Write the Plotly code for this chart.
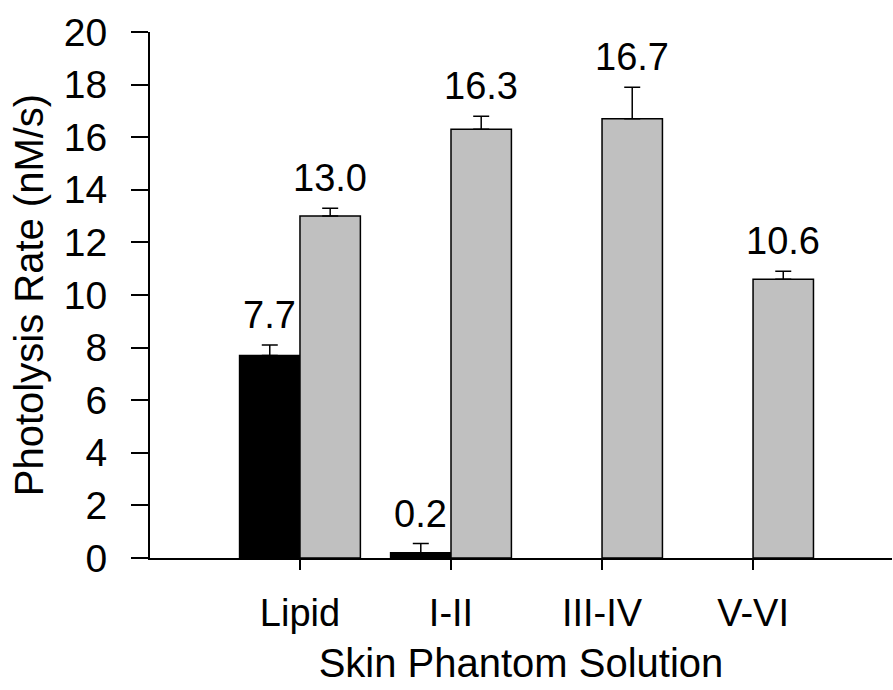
import plotly.graph_objects as go

categories = ["Lipid", "I-II", "III-IV", "V-VI"]
black_vals = [7.7, 0.2, None, None]
black_err = [0.4, 0.35, 0, 0]
gray_vals = [13.0, 16.3, 16.7, 10.6]
gray_err = [0.3, 0.5, 1.2, 0.3]
black_labels = ["7.7", "0.2", "", ""]
gray_labels = ["13.0", "16.3", "16.7", "10.6"]

pos = list(range(len(categories)))
FONT = "Liberation Sans, Arial, sans-serif"

fig = go.Figure()
fig.add_trace(go.Bar(
    x=pos, y=black_vals, width=0.4, offset=-0.4,
    marker=dict(color="black", line=dict(color="black", width=1.5)),
    error_y=dict(type="data", array=black_err, arrayminus=[0]*4, symmetric=False,
                 color="black", thickness=1.5, width=8),
    showlegend=False,
))
fig.add_trace(go.Bar(
    x=pos, y=gray_vals, width=0.4, offset=0,
    marker=dict(color="#c0c0c0", line=dict(color="black", width=1.5)),
    error_y=dict(type="data", array=gray_err, arrayminus=[0]*4, symmetric=False,
                 color="black", thickness=1.5, width=8),
    showlegend=False,
))

annotations = []
for i in pos:
    if black_vals[i] is not None and black_labels[i]:
        annotations.append(dict(x=i - 0.2, y=black_vals[i] + black_err[i], text=black_labels[i],
                                showarrow=False, yanchor="bottom", yshift=7,
                                font=dict(family=FONT, size=38, color="black")))
    annotations.append(dict(x=i + 0.2, y=gray_vals[i] + gray_err[i], text=gray_labels[i],
                            showarrow=False, yanchor="bottom", yshift=7,
                            font=dict(family=FONT, size=38, color="black")))

fig.update_layout(
    width=893, height=690,
    margin=dict(l=150, r=1, t=32, b=132),
    plot_bgcolor="white", paper_bgcolor="white",
    font=dict(family=FONT, size=39, color="black"),
    annotations=annotations,
    bargap=0.2,
)
fig.update_xaxes(
    range=[-0.993, 3.92], tickvals=pos, ticktext=categories,
    showline=True, linecolor="black", linewidth=2,
    ticks="outside", ticklen=10, tickwidth=1.5, tickcolor="black",
    ticklabelstandoff=10,
    showgrid=False, zeroline=False,
    title=dict(text="Skin Phantom Solution", standoff=16, font=dict(size=40)),
    tickfont=dict(size=38),
)
fig.update_yaxes(
    range=[0, 20], tickvals=list(range(0, 21, 2)),
    showline=True, linecolor="black", linewidth=2,
    ticks="outside", ticklen=17, tickwidth=1.5, tickcolor="black",
    ticklabelstandoff=16,
    showgrid=False, zeroline=False,
    title=dict(text="Photolysis Rate (nM/s)", standoff=8, font=dict(size=40)),
    tickfont=dict(size=39),
)

fig.write_html("out.html")
